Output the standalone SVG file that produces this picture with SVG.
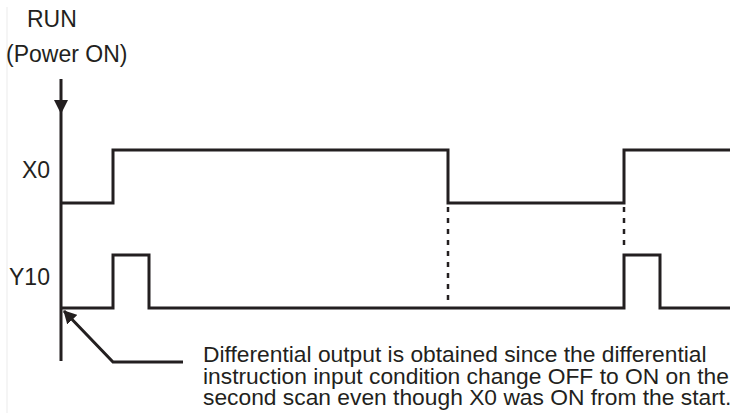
<svg xmlns="http://www.w3.org/2000/svg" width="746" height="416" viewBox="0 0 746 416">
<style>
.lbl{font-family:"Liberation Sans",Arial,sans-serif;font-size:23px;fill:#231f20}
.note{font-family:"Liberation Sans",Arial,sans-serif;font-size:22.8px;fill:#231f20}
.wave{fill:none;stroke:#231f20;stroke-width:3;stroke-linejoin:miter;stroke-linecap:butt}
.dash{fill:none;stroke:#231f20;stroke-width:2.5;stroke-dasharray:5 6}
</style>
<defs>
<marker id="ah" markerWidth="14" markerHeight="14" refX="12" refY="7" orient="auto" markerUnits="userSpaceOnUse">
<path d="M0,0 L13,7 L0,14 Z" fill="#231f20"/>
</marker>
</defs>
<rect width="746" height="416" fill="#ffffff"/>
<line x1="7" y1="7" x2="7" y2="413" stroke="#ebebeb" stroke-width="1"/>
<g id="run-label">
<text class="lbl" x="27" y="27">RUN</text>
<text class="lbl" x="6" y="62">(Power ON)</text>
</g>
<g id="x0-label"><text class="lbl" x="22" y="178">X0</text></g>
<g id="y10-label"><text class="lbl" x="9" y="285">Y10</text></g>
<g id="connectors">
<line x1="61" y1="79" x2="61" y2="361" stroke="#231f20" stroke-width="3"/>
<path d="M54,100 L68,100 L61,114 Z" fill="#231f20"/>
<line class="dash" x1="448" y1="207" x2="448" y2="304"/>
<line class="dash" x1="624" y1="207" x2="624" y2="248"/>
<path d="M183,362 H113 L64,311" fill="none" stroke="#231f20" stroke-width="3" marker-end="url(#ah)"/>
</g>
<g id="x0-wave"><path class="wave" d="M61,203 H113 V150 H448 V203 H624 V150 H730"/></g>
<g id="y10-wave"><path class="wave" d="M61,308 H113 V255 H149 V308 H624 V255 H660 V308 H730"/></g>
<g id="note">
<text class="note" x="203" y="362">Differential output is obtained since the differential</text>
<text class="note" x="203" y="384">instruction input condition change OFF to ON on the</text>
<text class="note" x="203" y="405">second scan even though X0 was ON from the start.</text>
</g>
</svg>
